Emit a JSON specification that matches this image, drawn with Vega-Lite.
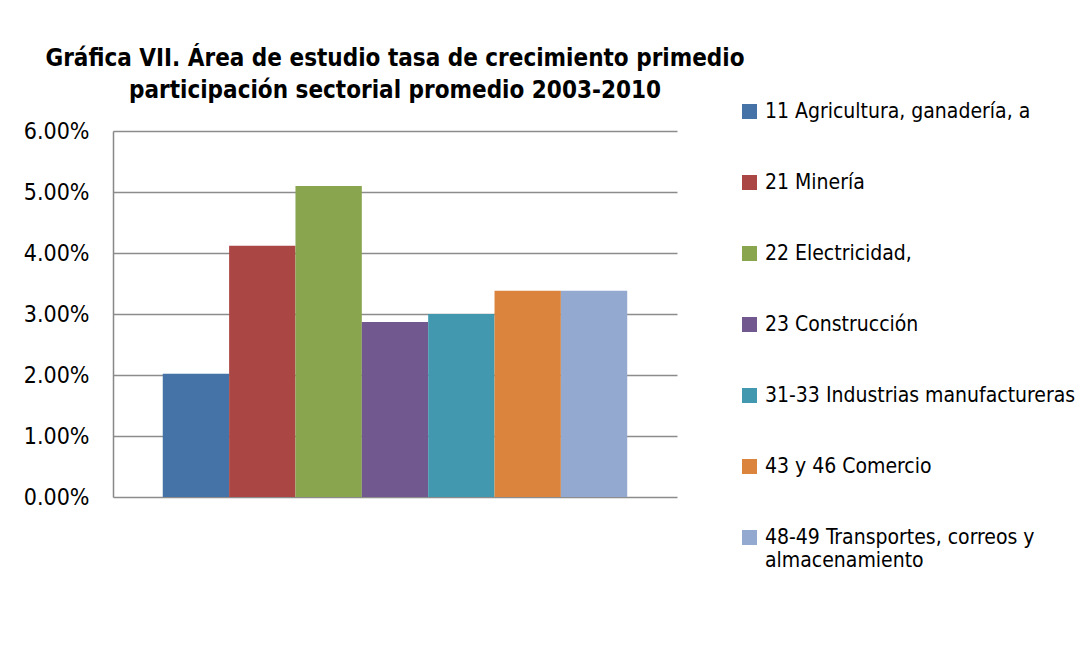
{
  "$schema": "https://vega.github.io/schema/vega-lite/v6.json",
  "autosize": "none",
  "width": 564,
  "height": 366,
  "padding": {"left": 113, "top": 131, "right": 407, "bottom": 160},
  "background": "white",
  "title": {
    "text": ["Gráfica VII. Área de estudio tasa de crecimiento primedio", "participación sectorial promedio 2003-2010"],
    "font": "DejaVu Sans Condensed, sans-serif",
    "fontSize": 24,
    "fontWeight": "bold",
    "color": "#000000",
    "anchor": "middle",
    "frame": "group",
    "lineHeight": 32,
    "offset": -2
  },
  "data": {
    "values": [
      {"sector": "11 Agricultura, ganadería, a", "tasa": 0.0202},
      {"sector": "21 Minería", "tasa": 0.0412},
      {"sector": "22 Electricidad,", "tasa": 0.0510},
      {"sector": "23 Construcción", "tasa": 0.0287},
      {"sector": "31-33 Industrias manufactureras", "tasa": 0.0300},
      {"sector": "43 y 46 Comercio", "tasa": 0.0338},
      {"sector": "48-49 Transportes, correos y almacenamiento", "tasa": 0.0338}
    ]
  },
  "mark": {"type": "bar"},
  "encoding": {
    "x": {
      "field": "sector",
      "type": "nominal",
      "sort": null,
      "axis": null,
      "scale": {"paddingInner": 0, "paddingOuter": 0.75}
    },
    "y": {
      "field": "tasa",
      "type": "quantitative",
      "scale": {"domain": [0, 0.06], "nice": false},
      "axis": {
        "title": null,
        "format": ".2%",
        "values": [0, 0.01, 0.02, 0.03, 0.04, 0.05, 0.06],
        "ticks": false,
        "labelPadding": 24,
        "labelFont": "DejaVu Sans Condensed, sans-serif",
        "labelFontSize": 23,
        "labelColor": "#000000",
        "domainColor": "#888888",
        "domainWidth": 1.5,
        "gridColor": "#8c8c8c",
        "gridWidth": 1.5,
        "gridOpacity": 1
      }
    },
    "color": {
      "field": "sector",
      "type": "nominal",
      "sort": null,
      "scale": {
        "range": ["#4572A7", "#AA4643", "#89A54E", "#71588F", "#4198AF", "#DB843D", "#93A9CF"]
      },
      "legend": {
        "title": null,
        "orient": "none",
        "legendX": 626,
        "legendY": -30,
        "symbolType": "square",
        "symbolSize": 225,
        "symbolStrokeWidth": 0,
        "symbolOpacity": 1,
        "labelFont": "DejaVu Sans Condensed, sans-serif",
        "labelFontSize": 21,
        "labelColor": "#000000",
        "labelOffset": 5,
        "labelLimit": 400,
        "rowPadding": 49,
        "labelExpr": "datum.label == '48-49 Transportes, correos y almacenamiento' ? ['48-49 Transportes, correos y', 'almacenamiento'] : datum.label"
      }
    }
  },
  "config": {
    "view": {"stroke": null}
  }
}
